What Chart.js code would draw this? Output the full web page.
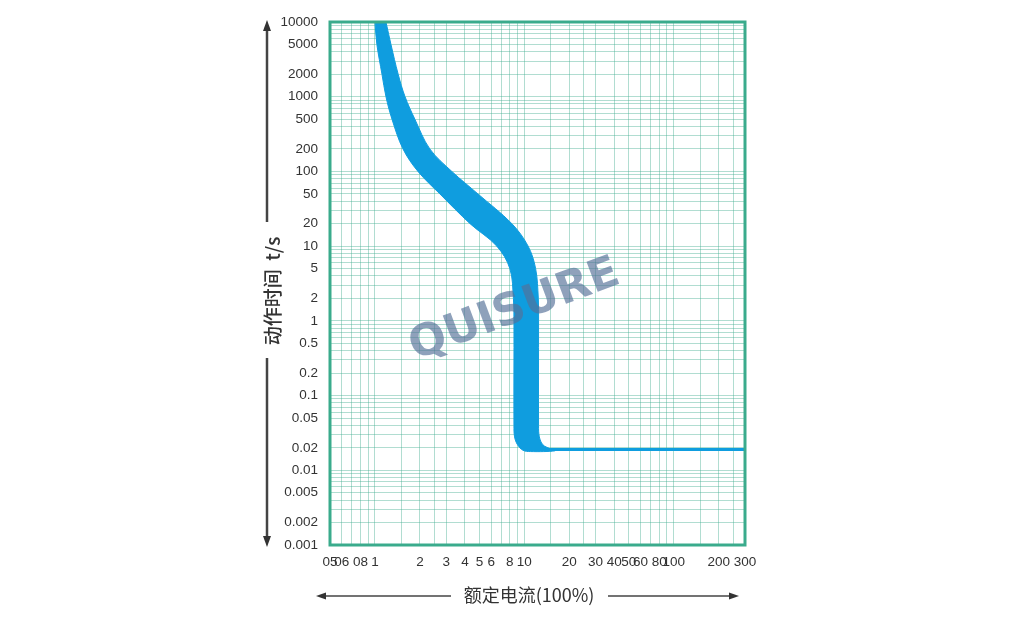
<!DOCTYPE html>
<html><head><meta charset="utf-8">
<script src="https://cdn.jsdelivr.net/npm/chart.js@4.4.0/dist/chart.umd.min.js"></script>
<style>html,body{margin:0;padding:0;background:#fff;}canvas{display:block;}</style>
</head><body>
<canvas id="c" width="1030" height="623"></canvas>
<script>
// ---- tick labels ----
const xTickValues = [0.5,0.6,0.8,1,2,3,4,5,6,8,10,20,30,40,50,60,80,100,200,300];
const xTickLabels = ['05','06','08','1','2','3','4','5','6','8','10','20','30','40','50','60','80','100','200','300'];
const yTickValues = [10000,5000,2000,1000,500,200,100,50,20,10,5,2,1,0.5,0.2,0.1,0.05,0.02,0.01,0.005,0.002,0.001];
const yTickLabels = ['10000','5000','2000','1000','500','200','100','50','20','10','5','2','1','0.5','0.2','0.1','0.05','0.02','0.01','0.005','0.002','0.001'];
// ---- grid line values ----
const xGridMantissas = [1,1.5,2,2.5,3,4,5,6,7,8,9];
const xGridDecades = [0.1,1,10,100];
const yGridMantissas = [1,2,3,4,5,6,7,8,9];
const yGridDecades = [0.001,0.01,0.1,1,10,100,1000,10000];
// ---- tripping band (current in multiples of In, time in s) ----
const lowerEdgeCurrent = [0.993, 1.0, 1.03, 1.114, 1.185, 1.30, 1.54, 1.94, 2.72, 4.33, 6.54, 8.0, 8.45, 8.52, 8.52, 8.6, 9.0, 9.8, 11.0];
const lowerEdgeTime    = [12000, 10000, 5000, 2000, 1000, 500, 200, 100, 50, 20, 10, 5, 2, 1, 0.04, 0.028, 0.022, 0.0185, 0.0178];
const upperEdgeCurrent = [1.16, 1.185, 1.28, 1.43, 1.59, 1.85, 2.33, 3.27, 4.89, 8.25, 10.6, 11.9, 12.4, 12.45, 12.45, 12.6, 13.3, 14.8, 16.0];
const upperEdgeTime    = [12000, 10000, 5000, 2000, 1000, 500, 200, 100, 50, 20, 10, 5, 2, 1, 0.04, 0.028, 0.022, 0.0195, 0.0182];
const tripLineCurrent = [14, 300];
const tripLineTime    = [0.019, 0.019];

const xGridValues = [];
xGridDecades.forEach(d => xGridMantissas.forEach(m => { const v = +(m*d).toPrecision(6); if (v >= 0.5 && v <= 300) xGridValues.push(v); }));
const yGridValues = [];
yGridDecades.forEach(d => yGridMantissas.forEach(m => { const v = +(m*d).toPrecision(6); if (v >= 0.001 && v <= 10000) yGridValues.push(v); }));

const bandPoints = lowerEdgeCurrent.map((x,i) => ({x, y: lowerEdgeTime[i]}))
  .concat(upperEdgeCurrent.map((x,i) => ({x, y: upperEdgeTime[i]})).reverse());
const tripLine = tripLineCurrent.map((x,i) => ({x, y: tripLineTime[i]}));

function labelFor(values, labels, v) {
  for (let i = 0; i < values.length; i++) if (Math.abs(values[i]-v)/values[i] < 1e-6) return labels[i];
  return '';
}

const BLUE = '#0f9ddf';
const decor = {
  id: 'decor',
  afterDatasetsDraw(chart) {
    const {ctx, chartArea: a} = chart;
    // watermark
    ctx.save();
    ctx.translate(a.left + (a.right-a.left)*0.445, a.top + (a.bottom-a.top)*0.552);
    ctx.rotate(-20.5*Math.PI/180);
    ctx.font = 'bold 44px "DejaVu Sans", sans-serif';
    ctx.fillStyle = 'rgba(85,112,152,0.66)';
    ctx.textAlign = 'center'; ctx.textBaseline = 'middle';
    ctx.fillText('QUISURE', 0, 0);
    ctx.restore();
    // plot border
    ctx.save();
    ctx.strokeStyle = '#3aab8c'; ctx.lineWidth = 3;
    ctx.strokeRect(a.left, a.top, a.right-a.left, a.bottom-a.top);
    ctx.restore();
  },
  afterDraw(chart) {
    const {ctx, chartArea: a} = chart;
    ctx.save();
    ctx.fillStyle = '#333'; ctx.strokeStyle = '#444';
    // y axis arrow
    const ax = a.left - 63;
    ctx.lineWidth = 2.5;
    ctx.beginPath(); ctx.moveTo(ax, a.top + 6); ctx.lineTo(ax, 222); ctx.stroke();
    ctx.beginPath(); ctx.moveTo(ax, 358); ctx.lineTo(ax, a.bottom - 6); ctx.stroke();
    ctx.beginPath(); ctx.moveTo(ax, a.top - 2); ctx.lineTo(ax-4, a.top + 9); ctx.lineTo(ax+4, a.top + 9); ctx.closePath(); ctx.fill();
    ctx.beginPath(); ctx.moveTo(ax, a.bottom + 2); ctx.lineTo(ax-4, a.bottom - 9); ctx.lineTo(ax+4, a.bottom - 9); ctx.closePath(); ctx.fill();
    // y title
    ctx.save();
    ctx.translate(ax + 6, 291);
    ctx.rotate(-Math.PI/2);
    ctx.font = '500 19px "Noto Sans CJK SC", sans-serif';
    ctx.textAlign = 'center'; ctx.textBaseline = 'middle';
    ctx.fillText('动作时间  t/s', 0, 0);
    ctx.restore();
    // x axis arrows
    const ay = 596;
    ctx.lineWidth = 1.5;
    ctx.beginPath(); ctx.moveTo(321, ay); ctx.lineTo(451, ay); ctx.stroke();
    ctx.beginPath(); ctx.moveTo(608, ay); ctx.lineTo(734, ay); ctx.stroke();
    ctx.beginPath(); ctx.moveTo(316, ay); ctx.lineTo(326, ay-3.5); ctx.lineTo(326, ay+3.5); ctx.closePath(); ctx.fill();
    ctx.beginPath(); ctx.moveTo(739, ay); ctx.lineTo(729, ay-3.5); ctx.lineTo(729, ay+3.5); ctx.closePath(); ctx.fill();
    ctx.font = '18px "Noto Sans CJK SC", sans-serif';
    ctx.textAlign = 'center'; ctx.textBaseline = 'middle';
    ctx.fillText('额定电流(100%)', 529, ay - 1);
    ctx.restore();
  }
};

new Chart(document.getElementById('c'), {
  type: 'scatter',
  data: {
    datasets: [
      { data: bandPoints, showLine: true, fill: 'shape', backgroundColor: BLUE, borderColor: BLUE, borderWidth: 1, pointRadius: 0, tension: 0.35 },
      { data: tripLine, showLine: true, fill: false, borderColor: BLUE, borderWidth: 3, pointRadius: 0 }
    ]
  },
  options: {
    responsive: false, animation: false,
    layout: { padding: { left: 0, right: 285, top: 22, bottom: 0 } },
    plugins: { legend: { display: false }, tooltip: { enabled: false } },
    scales: {
      x: {
        type: 'logarithmic', min: 0.5, max: 300,
        border: { display: false },
        grid: { color: 'rgba(70,175,145,0.42)', lineWidth: 1, drawTicks: false },
        ticks: { autoSkip: false, maxRotation: 0, padding: 9, color: '#333',
          font: { family: '"Liberation Sans", Arial, sans-serif', size: 13.5 },
          callback: v => labelFor(xTickValues, xTickLabels, v) },
        afterBuildTicks: s => { s.ticks = xGridValues.map(v => ({ value: v })); },
        afterFit: s => { s.height = 78; }
      },
      y: {
        type: 'logarithmic', min: 0.001, max: 10000,
        border: { display: false },
        grid: { color: 'rgba(70,175,145,0.42)', lineWidth: 1, drawTicks: false },
        ticks: { autoSkip: false, padding: 12, color: '#333',
          font: { family: '"Liberation Sans", Arial, sans-serif', size: 13.5 },
          callback: v => labelFor(yTickValues, yTickLabels, v) },
        afterBuildTicks: s => { s.ticks = yGridValues.map(v => ({ value: v })); },
        afterFit: s => { s.width = 330; }
      }
    }
  },
  plugins: [decor]
});
</script>
</body></html>
